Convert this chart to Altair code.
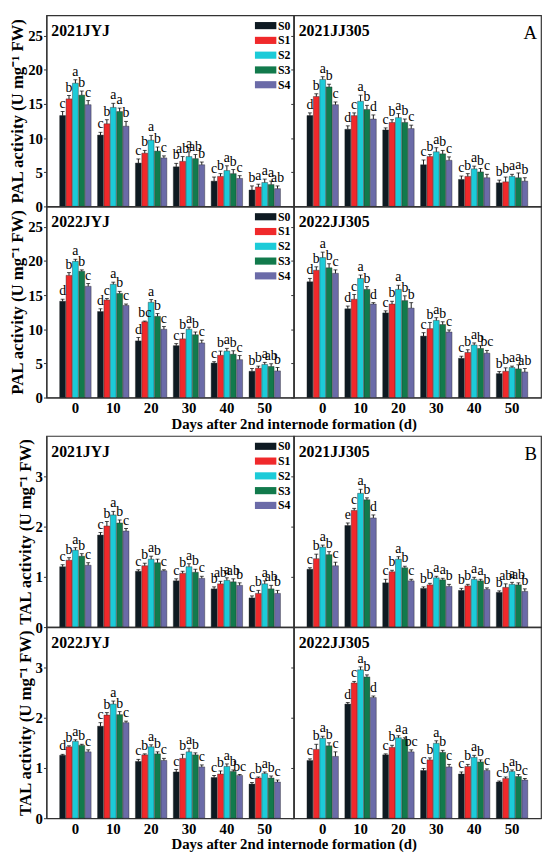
import altair as alt
import pandas as pd

SERIF = "Liberation Serif"
days = ["0", "10", "20", "30", "40", "50"]
series = ["S0", "S1", "S2", "S3", "S4"]
colors = ["#0e1a22", "#f0292b", "#1ccbd8", "#127a4c", "#6b6ba8"]

# PAL activity, rows = days, columns = S0..S4
pal_21jyj = [[13.3, 15.75, 18.05, 16.3, 14.9], [10.45, 12.1, 14.5, 13.9, 11.75], [6.35, 7.8, 9.7, 8.1, 7.1],
             [5.8, 6.6, 7.3, 7.0, 6.1], [3.7, 4.4, 5.25, 4.8, 4.1], [2.4, 2.85, 3.5, 3.2, 2.6]]
pal_21jyj_err = [[0.6, 0.5, 0.5, 0.6, 0.6], [0.4, 0.6, 0.6, 0.5, 0.7], [0.6, 0.4, 0.7, 0.6, 0.3],
                 [0.5, 0.7, 0.7, 0.6, 0.4], [0.6, 0.4, 0.7, 0.6, 0.4], [0.6, 0.4, 0.5, 0.5, 0.4]]
pal_21jyj_let = [["c", "b", "a", "b", "c"], ["c", "b", "a", "a", "b"], ["c", "b", "a", "b", "c"],
                 ["b", "ab", "a", "ab", "b"], ["c", "b", "a", "b", "c"], ["b", "a", "a", "a", "ab"]]

pal_21jj = [[13.3, 16.1, 18.6, 17.5, 14.9], [11.3, 13.3, 15.4, 14.2, 12.8], [11.2, 12.3, 13.0, 12.3, 11.4],
            [6.1, 7.3, 8.0, 7.7, 6.75], [3.95, 4.4, 5.5, 5.05, 4.2], [3.45, 3.6, 4.4, 4.2, 3.7]]
pal_21jj_err = [[0.4, 0.4, 0.4, 0.4, 0.4], [0.5, 0.4, 0.9, 0.6, 0.6], [0.3, 0.4, 0.6, 0.5, 0.5],
                [0.7, 0.3, 0.6, 0.5, 0.5], [0.5, 0.4, 0.4, 0.5, 0.5], [0.4, 0.7, 0.3, 0.7, 0.5]]
pal_21jj_let = [["d", "b", "a", "b", "c"], ["d", "c", "a", "b", "d"], ["c", "b", "a", "b", "c"],
                ["c", "b", "a", "b", "c"], ["c", "b", "a", "b", "c"], ["b", "b", "a", "a", "b"]]

pal_22jyj = [[14.1, 17.9, 19.95, 18.5, 16.3], [12.6, 14.3, 16.6, 15.25, 13.5], [8.3, 11.1, 13.95, 11.9, 10.0],
             [7.6, 8.6, 10.0, 9.2, 8.0], [5.05, 6.2, 6.8, 6.35, 5.55], [3.85, 4.3, 4.85, 4.55, 3.9]]
pal_22jyj_err = [[0.3, 0.4, 0.3, 0.2, 0.4], [0.4, 0.2, 0.3, 0.3, 0.2], [0.5, 0.1, 0.4, 0.4, 0.4],
                 [0.3, 0.8, 0.3, 0.4, 0.4], [0.2, 0.6, 0.4, 0.5, 0.6], [0.4, 0.3, 0.3, 0.4, 0.5]]
pal_22jyj_let = [["d", "b", "a", "b", "c"], ["d", "c", "a", "b", "c"], ["d", "bc", "a", "b", "c"],
                 ["c", "b", "a", "b", "c"], ["c", "b", "a", "b", "c"], ["b", "b", "a", "ab", "b"]]

pal_22jj = [[16.95, 18.65, 20.5, 19.0, 18.2], [13.0, 14.4, 17.45, 15.85, 13.7], [12.4, 13.7, 15.85, 14.2, 13.1],
            [9.0, 10.1, 11.3, 10.7, 9.6], [5.75, 6.6, 7.7, 7.2, 6.5], [3.5, 3.85, 4.4, 4.2, 3.75]]
pal_22jj_err = [[0.5, 0.5, 0.8, 0.6, 0.5], [0.4, 0.7, 0.5, 0.4, 0.2], [0.3, 0.4, 0.6, 0.7, 0.8],
                [0.5, 0.9, 0.4, 0.4, 0.3], [0.3, 0.4, 0.3, 0.4, 0.4], [0.3, 0.5, 0.2, 0.6, 0.5]]
pal_22jj_let = [["d", "b", "a", "b", "c"], ["d", "c", "a", "b", "d"], ["c", "b", "a", "b", "b"],
                ["c", "b", "a", "b", "c"], ["c", "b", "a", "b", "bc"], ["b", "b", "a", "a", "ab"]]

# TAL activity
tal_21jyj = [[1.2, 1.33, 1.53, 1.41, 1.23], [1.83, 2.01, 2.23, 2.07, 1.91], [1.11, 1.22, 1.35, 1.28, 1.12],
             [0.92, 1.07, 1.2, 1.09, 0.97], [0.76, 0.86, 0.93, 0.9, 0.83], [0.58, 0.67, 0.86, 0.76, 0.67]]
tal_21jyj_err = [[0.04, 0.05, 0.05, 0.05, 0.05], [0.05, 0.09, 0.07, 0.06, 0.05], [0.03, 0.05, 0.06, 0.07, 0.02],
                 [0.04, 0.04, 0.06, 0.06, 0.04], [0.04, 0.05, 0.05, 0.06, 0.05], [0.04, 0.06, 0.06, 0.07, 0.06]]
tal_21jyj_let = [["c", "b", "a", "b", "c"], ["c", "b", "a", "b", "c"], ["c", "b", "a", "b", "c"],
                 ["c", "b", "a", "b", "c"], ["b", "ab", "a", "ab", "b"], ["c", "b", "a", "ab", "b"]]

tal_21jj = [[1.15, 1.36, 1.59, 1.44, 1.22], [2.02, 2.32, 2.66, 2.53, 2.17], [0.88, 1.1, 1.35, 1.18, 0.92],
            [0.77, 0.84, 0.98, 0.94, 0.81], [0.73, 0.82, 0.95, 0.92, 0.75], [0.69, 0.79, 0.85, 0.84, 0.71]]
tal_21jj_err = [[0.03, 0.09, 0.04, 0.06, 0.07], [0.05, 0.04, 0.08, 0.04, 0.06], [0.07, 0.03, 0.05, 0.03, 0.03],
                [0.03, 0.03, 0.03, 0.03, 0.04], [0.04, 0.03, 0.04, 0.03, 0.03], [0.03, 0.07, 0.04, 0.04, 0.05]]
tal_21jj_let = [["c", "b", "a", "b", "c"], ["e", "c", "a", "b", "d"], ["c", "b", "a", "b", "c"],
                ["b", "b", "a", "a", "b"], ["b", "b", "a", "a", "b"], ["b", "ab", "a", "ab", "b"]]

tal_22jyj = [[1.25, 1.42, 1.53, 1.45, 1.32], [1.83, 2.05, 2.27, 2.06, 1.9], [1.13, 1.26, 1.42, 1.28, 1.15],
             [0.92, 1.19, 1.32, 1.26, 1.02], [0.81, 0.88, 1.03, 0.93, 0.85], [0.68, 0.8, 0.89, 0.8, 0.72]]
tal_22jyj_err = [[0.02, 0.02, 0.03, 0.02, 0.04], [0.07, 0.05, 0.06, 0.06, 0.03], [0.04, 0.02, 0.04, 0.04, 0.04],
                 [0.05, 0.08, 0.07, 0.04, 0.04], [0.04, 0.06, 0.05, 0.03, 0.02], [0.03, 0.02, 0.03, 0.04, 0.04]]
tal_22jyj_let = [["d", "b", "a", "b", "c"], ["c", "b", "a", "b", "c"], ["c", "b", "a", "b", "c"],
                 ["c", "b", "a", "b", "c"], ["c", "b", "a", "b", "bc"], ["c", "b", "a", "b", "c"]]

tal_22jj = [[1.15, 1.37, 1.59, 1.44, 1.23], [2.27, 2.69, 2.95, 2.81, 2.4], [1.26, 1.41, 1.6, 1.57, 1.32],
            [0.95, 1.16, 1.49, 1.31, 1.02], [0.88, 1.03, 1.21, 1.12, 0.95], [0.72, 0.79, 0.93, 0.83, 0.76]]
tal_22jj_err = [[0.03, 0.1, 0.04, 0.06, 0.09], [0.03, 0.03, 0.06, 0.04, 0.03], [0.02, 0.04, 0.04, 0.03, 0.04],
                [0.04, 0.04, 0.05, 0.04, 0.05], [0.04, 0.04, 0.04, 0.04, 0.03], [0.02, 0.03, 0.03, 0.04, 0.03]]
tal_22jj_let = [["c", "b", "a", "b", "c"], ["d", "c", "a", "b", "d"], ["c", "b", "a", "a", "bc"],
                ["c", "b", "a", "b", "c"], ["c", "b", "a", "b", "c"], ["c", "b", "a", "b", "c"]]

W, H = 251, 194
xtitle = "Days after 2nd internode formation (d)"


def panel(name, vals, errs, lets, ymax, yticks, ytitle, left, bottom, legend, corner=""):
    rows = []
    for i, d in enumerate(days):
        for j, s in enumerate(series):
            rows.append(dict(day=d, s=s, v=vals[i][j], top=vals[i][j] + errs[i][j], lab=lets[i][j]))
    df = pd.DataFrame(rows)

    if bottom and left:
        xaxis = alt.Axis(labelAngle=0, ticks=False, labelFontSize=15, labelPadding=3, title=xtitle,
                         titleFontSize=15, titleX=W, titleY=31, titleBaseline="alphabetic")
    elif bottom:
        xaxis = alt.Axis(labelAngle=0, ticks=False, labelFontSize=15, labelPadding=3, title=None)
    else:
        xaxis = alt.Axis(labels=False, ticks=False, title=None)

    if left:
        yaxis = alt.Axis(values=yticks, title=ytitle, titleFontSize=17, labelFontSize=15,
                         labelOverlap=False, tickSize=3, labelPadding=1, titlePadding=1, grid=False)
    else:
        yaxis = alt.Axis(values=yticks, labels=False, title=None, tickSize=3, grid=False)
    yscale = alt.Scale(domain=[0, ymax], nice=False)

    base = alt.Chart(df).encode(
        x=alt.X("day:N", sort=days, scale=alt.Scale(paddingInner=0.17, paddingOuter=0.35), axis=xaxis),
        xOffset=alt.XOffset("s:N", sort=series, scale=alt.Scale(paddingInner=0.08)),
    )
    if legend:
        leg = alt.Legend(orient="top-right", title=None, offset=3, padding=0,
                         symbolType="M-1.5,-0.5H1.5V0.5H-1.5Z", symbolSize=210, symbolStrokeWidth=0,
                         labelFont=SERIF, labelFontWeight="bold", labelFontSize=12, labelOffset=5, rowPadding=1)
    else:
        leg = None
    bars = base.mark_bar(stroke="#222", strokeWidth=0.4).encode(
        y=alt.Y("v:Q", scale=yscale, axis=yaxis),
        color=alt.Color("s:N", scale=alt.Scale(domain=series, range=colors), legend=leg),
    )
    err = base.mark_rule(color="black", strokeWidth=0.9).encode(
        y=alt.Y("v:Q", scale=yscale, axis=yaxis), y2="top:Q")
    cap = base.mark_tick(color="black", thickness=1, size=4).encode(
        y=alt.Y("top:Q", scale=yscale, axis=yaxis))
    txt = base.mark_text(baseline="bottom", dy=-1, font=SERIF, fontSize=14).encode(
        y=alt.Y("top:Q", scale=yscale, axis=yaxis), text="lab:N")
    ttl = alt.Chart(pd.DataFrame({"t": [name]})).mark_text(
        align="left", baseline="alphabetic", font=SERIF, fontWeight="bold", fontSize=16
    ).encode(x=alt.value(5), y=alt.value(21), text="t:N")
    layers = [bars, err, cap, txt, ttl]
    if corner:
        layers.append(alt.Chart(pd.DataFrame({"t": [corner]})).mark_text(
            align="right", baseline="alphabetic", font=SERIF, fontSize=19
        ).encode(x=alt.value(W - 4), y=alt.value(24), text="t:N"))
    return alt.layer(*layers).properties(width=W, height=H)


def grid(*panels):
    return alt.concat(*panels, columns=2, spacing=0, bounds="flush").resolve_scale(color="independent")


pal_t = "PAL activity (U mg\u207b\u00b9 FW)"
tal_t = "TAL activity (U mg\u207b\u00b9 FW)"
pal_ticks = [0, 5, 10, 15, 20, 25]
tal_ticks = [0, 1, 2, 3]

sec_a = grid(
    panel("2021JYJ", pal_21jyj, pal_21jyj_err, pal_21jyj_let, 28, pal_ticks, pal_t, True, False, True),
    panel("2021JJ305", pal_21jj, pal_21jj_err, pal_21jj_let, 28, pal_ticks, pal_t, False, False, False, "A"),
    panel("2022JYJ", pal_22jyj, pal_22jyj_err, pal_22jyj_let, 28, pal_ticks, pal_t, True, True, True),
    panel("2022JJ305", pal_22jj, pal_22jj_err, pal_22jj_let, 28, pal_ticks, pal_t, False, True, False),
)

sec_b = grid(
    panel("2021JYJ", tal_21jyj, tal_21jyj_err, tal_21jyj_let, 3.8, tal_ticks, tal_t, True, False, True),
    panel("2021JJ305", tal_21jj, tal_21jj_err, tal_21jj_let, 3.8, tal_ticks, tal_t, False, False, False, "B"),
    panel("2022JYJ", tal_22jyj, tal_22jyj_err, tal_22jyj_let, 3.8, tal_ticks, tal_t, True, True, False),
    panel("2022JJ305", tal_22jj, tal_22jj_err, tal_22jj_let, 3.8, tal_ticks, tal_t, False, True, False),
)

chart = (
    alt.vconcat(sec_a, sec_b, spacing=3)
    .resolve_scale(color="independent")
    .properties(padding={"left": 0, "top": 0, "right": 0, "bottom": 0})
    .configure(font=SERIF)
    .configure_axis(labelFont=SERIF, titleFont=SERIF, labelFontWeight="bold", titleFontWeight="bold",
                    labelColor="black", titleColor="black", domainColor="#333", tickColor="#333",
                    domainWidth=1.2)
    .configure_view(stroke="#333", strokeWidth=1.2)
)

chart.save("out.html", embed_options={"renderer": "svg", "actions": False})
